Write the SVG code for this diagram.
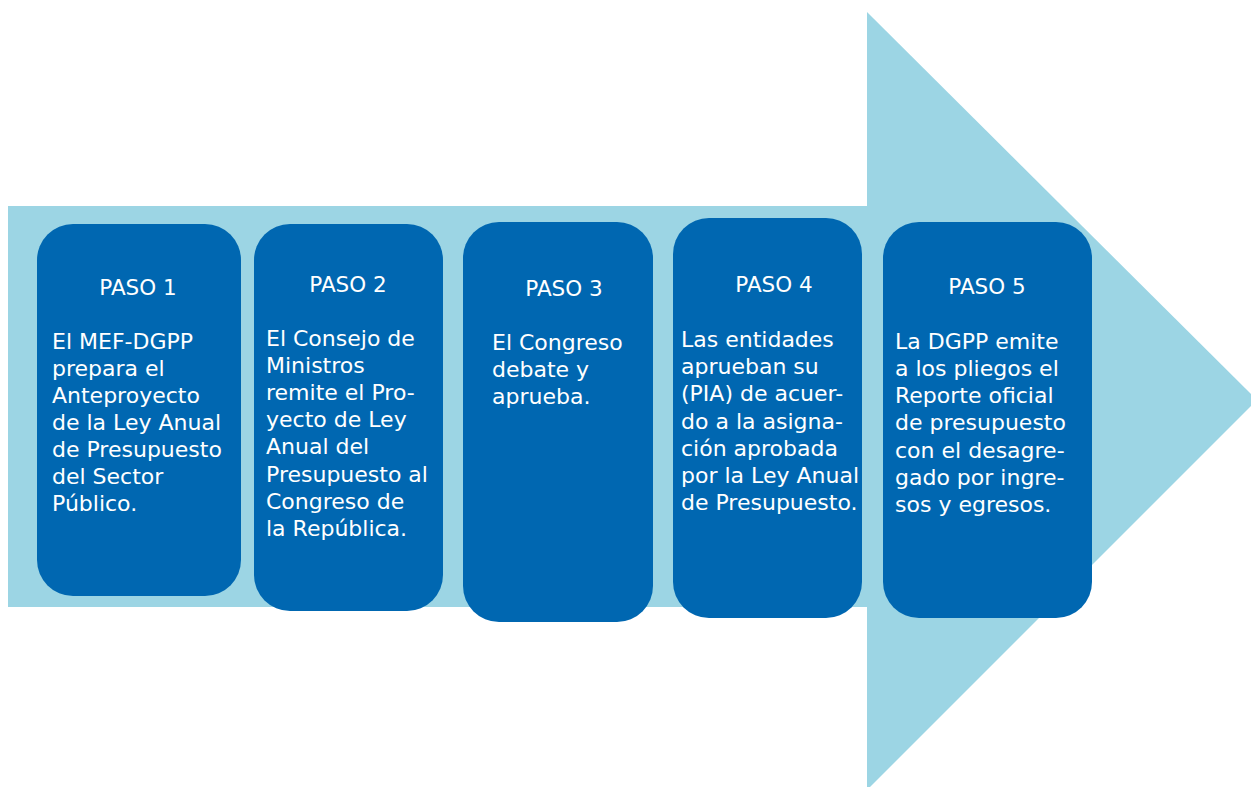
<svg xmlns="http://www.w3.org/2000/svg" width="1251" height="787" viewBox="0 0 1251 787">
<style>
.bg{fill:#9cd5e4}
.box{fill:#0067b1}
.t{font-family:"DejaVu Sans","Liberation Sans",sans-serif;font-size:22px;fill:#ffffff}
.h{font-family:"DejaVu Sans","Liberation Sans",sans-serif;font-size:21.5px;fill:#ffffff;text-anchor:middle}
</style>
<rect width="1251" height="787" fill="#ffffff"/>
<g id="arrow">
<rect class="bg" x="8" y="206" width="862" height="401"/>
<polygon class="bg" points="867,12 1257,400 867,790"/>
</g>
<g id="connectors"></g>
<g id="paso1">
<rect class="box" x="37" y="224" width="204" height="372" rx="36" ry="36"/>
<text class="h" x="138" y="295">PASO 1</text>
<text class="t" x="52" y="349">El MEF-DGPP</text>
<text class="t" x="52" y="376">prepara el</text>
<text class="t" x="52" y="403">Anteproyecto</text>
<text class="t" x="52" y="430">de la Ley Anual</text>
<text class="t" x="52" y="457">de Presupuesto</text>
<text class="t" x="52" y="484">del Sector</text>
<text class="t" x="52" y="511">Público.</text>
</g>
<g id="paso2">
<rect class="box" x="254" y="224" width="189" height="387" rx="36" ry="36"/>
<text class="h" x="348" y="292">PASO 2</text>
<text class="t" x="266" y="346">El Consejo de</text>
<text class="t" x="266" y="373">Ministros</text>
<text class="t" x="266" y="400">remite el Pro-</text>
<text class="t" x="266" y="427">yecto de Ley</text>
<text class="t" x="266" y="454">Anual del</text>
<text class="t" x="266" y="482">Presupuesto al</text>
<text class="t" x="266" y="509">Congreso de</text>
<text class="t" x="266" y="536">la República.</text>
</g>
<g id="paso3">
<rect class="box" x="463" y="222" width="190" height="400" rx="36" ry="36"/>
<text class="h" x="564" y="296">PASO 3</text>
<text class="t" x="492" y="350">El Congreso</text>
<text class="t" x="492" y="377">debate y</text>
<text class="t" x="492" y="404">aprueba.</text>
</g>
<g id="paso4">
<rect class="box" x="673" y="218" width="189" height="400" rx="36" ry="36"/>
<text class="h" x="774" y="292">PASO 4</text>
<text class="t" x="681" y="347">Las entidades</text>
<text class="t" x="681" y="374">aprueban su</text>
<text class="t" x="681" y="401">(PIA) de acuer-</text>
<text class="t" x="681" y="429">do a la asigna-</text>
<text class="t" x="681" y="456">ción aprobada</text>
<text class="t" x="681" y="483">por la Ley Anual</text>
<text class="t" x="681" y="510">de Presupuesto.</text>
</g>
<g id="paso5">
<rect class="box" x="883" y="222" width="209" height="396" rx="36" ry="36"/>
<text class="h" x="987" y="294">PASO 5</text>
<text class="t" x="895" y="349">La DGPP emite</text>
<text class="t" x="895" y="376">a los pliegos el</text>
<text class="t" x="895" y="403">Reporte oficial</text>
<text class="t" x="895" y="430">de presupuesto</text>
<text class="t" x="895" y="458">con el desagre-</text>
<text class="t" x="895" y="485">gado por ingre-</text>
<text class="t" x="895" y="512">sos y egresos.</text>
</g>
</svg>
